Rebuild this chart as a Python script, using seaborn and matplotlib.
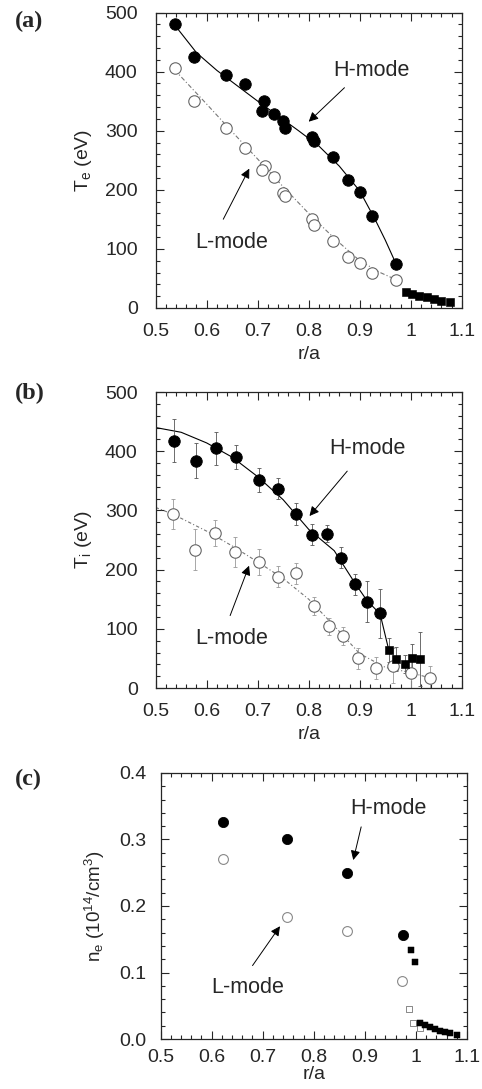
import numpy as np
import pandas as pd
import matplotlib
matplotlib.use('Agg')
import matplotlib.pyplot as plt
from matplotlib.ticker import MultipleLocator, FuncFormatter
import seaborn as sns

sns.set_style('ticks')
plt.rcParams['font.family'] = ['Liberation Sans', 'DejaVu Sans']
plt.rcParams['mathtext.default'] = 'regular'

# ---- (a) electron temperature ----
te_h_x = [0.538, 0.576, 0.637, 0.675, 0.712, 0.708, 0.731, 0.750, 0.754, 0.807, 0.810, 0.848, 0.877, 0.900, 0.925, 0.971]
te_h_y = [480, 424, 395, 379, 351, 333, 328, 317, 305, 289, 282, 255, 217, 196, 156, 75]
te_l_x = [0.537, 0.576, 0.637, 0.675, 0.714, 0.708, 0.731, 0.750, 0.754, 0.807, 0.810, 0.848, 0.877, 0.900, 0.925, 0.971]
te_l_y = [406, 351, 304, 271, 241, 234, 222, 195, 189, 151, 140, 113, 86, 76, 59, 48]
te_sq_x = [0.990, 1.003, 1.017, 1.031, 1.046, 1.060, 1.076]
te_sq_y = [27, 24, 21, 18, 15, 12, 10]
te_hfit_x = [0.538, 0.58, 0.62, 0.66, 0.70, 0.74, 0.78, 0.82, 0.86, 0.90, 0.93, 0.95, 0.971]
te_hfit_y = [478, 432, 402, 376, 350, 325, 300, 274, 240, 198, 150, 115, 75]
te_lfit_x = [0.537, 0.60, 0.65, 0.70, 0.75, 0.80, 0.85, 0.90, 0.94, 0.971]
te_lfit_y = [403, 345, 298, 252, 205, 160, 118, 80, 60, 48]

# ---- (b) ion temperature ----
ti_h_x = [0.535, 0.580, 0.619, 0.658, 0.702, 0.739, 0.775, 0.807, 0.836, 0.863, 0.890, 0.914, 0.940]
ti_h_y = [418, 384, 405, 390, 351, 337, 294, 259, 261, 220, 175, 146, 126]
ti_h_err = [36, 30, 28, 20, 20, 18, 18, 18, 15, 18, 18, 35, 42]
ti_sq_x = [0.957, 0.972, 0.988, 1.003, 1.019]
ti_sq_y = [64, 49, 41, 50, 49]
ti_sq_err = [20, 20, 15, 25, 45]
ti_l_x = [0.533, 0.577, 0.616, 0.656, 0.703, 0.739, 0.775, 0.810, 0.839, 0.868, 0.897, 0.932, 0.966, 1.001, 1.038]
ti_l_y = [294, 234, 262, 230, 213, 188, 194, 139, 104, 88, 50, 34, 38, 25, 17]
ti_l_err = [26, 35, 22, 25, 22, 18, 18, 15, 15, 15, 18, 18, 30, 25, 20]
ti_hfit_x = [0.50, 0.55, 0.60, 0.65, 0.70, 0.75, 0.80, 0.85, 0.89, 0.914, 0.940, 0.957]
ti_hfit_y = [440, 432, 414, 390, 357, 318, 268, 232, 178, 148, 125, 64]
ti_lfit_x = [0.50, 0.533, 0.60, 0.65, 0.70, 0.75, 0.80, 0.85, 0.90, 0.95, 1.00, 1.038]
ti_lfit_y = [305, 294, 265, 240, 213, 185, 150, 105, 58, 35, 26, 17]

# ---- (c) electron density ----
ne_h_x = [0.623, 0.748, 0.865, 0.974]
ne_h_y = [0.3265, 0.3005, 0.250, 0.156]
ne_l_x = [0.623, 0.748, 0.865, 0.973]
ne_l_y = [0.271, 0.184, 0.1625, 0.0875]
ne_hsq_x = [0.990, 0.998, 1.008, 1.018, 1.028, 1.037, 1.047, 1.057, 1.067, 1.080]
ne_hsq_y = [0.134, 0.116, 0.0245, 0.021, 0.018, 0.015, 0.0125, 0.010, 0.0085, 0.0065]
ne_lsq_x = [0.987, 0.995, 1.007]
ne_lsq_y = [0.0447, 0.0236, 0.016]

fig = plt.figure(figsize=(4.82, 10.89), dpi=100)
ax_a = fig.add_axes([0.323, 0.7172, 0.635, 0.2713])
ax_b = fig.add_axes([0.323, 0.3682, 0.635, 0.2718])
ax_c = fig.add_axes([0.333, 0.0459, 0.636, 0.2443])

open_gray = '#666666'
FS = 14

def style_axis(ax, ymax, ymaj, ymin, xpad, ypad, xlpad):
    ax.set_xlim(0.5, 1.1)
    ax.set_ylim(0, ymax)
    ax.xaxis.set_major_locator(MultipleLocator(0.1))
    ax.xaxis.set_minor_locator(MultipleLocator(0.02))
    ax.yaxis.set_major_locator(MultipleLocator(ymaj))
    ax.yaxis.set_minor_locator(MultipleLocator(ymin))
    ax.xaxis.set_major_formatter(FuncFormatter(lambda v, p: '%g' % round(v, 2)))
    ax.tick_params(which='both', direction='in', top=True, right=True, labelsize=FS, width=0.8)
    ax.tick_params(which='major', length=5.5)
    ax.tick_params(which='minor', length=2.8)
    ax.tick_params(axis='x', which='major', pad=xpad)
    ax.tick_params(axis='y', which='major', pad=ypad)
    for s in ax.spines.values():
        s.set_linewidth(0.9)
        s.set_visible(True)
    ax.set_xlabel('r/a', fontsize=FS, labelpad=xlpad)

def annotate(ax, text, xy, xytext, tx, ty):
    ax.annotate('', xy=xy, xytext=xytext,
                arrowprops=dict(arrowstyle='-|>', color='k', lw=0.7, mutation_scale=14))
    ax.text(tx, ty, text, fontsize=15.5, ha='center', va='center')

# (a)
ax = ax_a
sns.lineplot(x=te_hfit_x, y=te_hfit_y, ax=ax, color='k', lw=0.8, sort=False, estimator=None)
sns.lineplot(x=te_lfit_x, y=te_lfit_y, ax=ax, color='#777777', lw=0.8, sort=False, estimator=None,
             linestyle=(0, (4, 2, 1, 2)))
sns.scatterplot(x=te_l_x, y=te_l_y, ax=ax, marker='o', s=68, facecolor='white', edgecolor=open_gray, linewidth=0.8, zorder=3)
sns.scatterplot(x=te_h_x, y=te_h_y, ax=ax, marker='o', s=68, color='k', edgecolor='k', zorder=4)
sns.scatterplot(x=te_sq_x, y=te_sq_y, ax=ax, marker='s', s=28, color='k', edgecolor='k', zorder=4)
style_axis(ax, 500, 100, 20, 11, 13, 4)
ax.set_ylabel('T$_e$ (eV)', fontsize=FS, labelpad=8)
annotate(ax, 'H-mode', (0.796, 312), (0.874, 376), 0.923, 402)
annotate(ax, 'L-mode', (0.686, 240), (0.630, 146), 0.649, 110)

# (b)
ax = ax_b
sns.lineplot(x=ti_hfit_x, y=ti_hfit_y, ax=ax, color='k', lw=0.8, sort=False, estimator=None)
sns.lineplot(x=ti_lfit_x, y=ti_lfit_y, ax=ax, color='#777777', lw=0.8, sort=False, estimator=None,
             linestyle=(0, (3, 2, 1, 2)))
ax.errorbar(ti_h_x, ti_h_y, yerr=ti_h_err, fmt='none', ecolor='#555555', elinewidth=0.6, capsize=1.5, capthick=0.6, zorder=2)
ax.errorbar(ti_sq_x, ti_sq_y, yerr=ti_sq_err, fmt='none', ecolor='#555555', elinewidth=0.6, capsize=1.5, capthick=0.6, zorder=2)
ax.errorbar(ti_l_x, ti_l_y, yerr=ti_l_err, fmt='none', ecolor='#999999', elinewidth=0.6, capsize=1.5, capthick=0.6, zorder=2)
sns.scatterplot(x=ti_l_x, y=ti_l_y, ax=ax, marker='o', s=68, facecolor='white', edgecolor=open_gray, linewidth=0.8, zorder=3)
sns.scatterplot(x=ti_h_x, y=ti_h_y, ax=ax, marker='o', s=68, color='k', edgecolor='k', zorder=4)
sns.scatterplot(x=ti_sq_x, y=ti_sq_y, ax=ax, marker='s', s=30, color='k', edgecolor='k', zorder=4)
style_axis(ax, 500, 100, 20, 11, 13, 4)
ax.set_ylabel('T$_i$ (eV)', fontsize=FS, labelpad=8)
annotate(ax, 'H-mode', (0.798, 287), (0.879, 370), 0.915, 405)
annotate(ax, 'L-mode', (0.685, 211), (0.644, 118), 0.649, 83)

# (c)
ax = ax_c
sns.scatterplot(x=ne_l_x, y=ne_l_y, ax=ax, marker='o', s=50, facecolor='white', edgecolor='#888888', linewidth=0.8, zorder=3)
sns.scatterplot(x=ne_lsq_x, y=ne_lsq_y, ax=ax, marker='s', s=14, facecolor='white', edgecolor='#888888', linewidth=0.7, zorder=3)
sns.scatterplot(x=ne_h_x, y=ne_h_y, ax=ax, marker='o', s=54, color='k', edgecolor='k', zorder=4)
sns.scatterplot(x=ne_hsq_x, y=ne_hsq_y, ax=ax, marker='s', s=20, color='k', edgecolor='k', zorder=4)
style_axis(ax, 0.4, 0.1, 0.02, 7, 10, 0)
ax.yaxis.set_major_formatter(FuncFormatter(lambda v, p: '%.1f' % v))
ax.set_ylabel('n$_e$ (10$^{14}$/cm$^3$)', fontsize=13.5, labelpad=9)
annotate(ax, 'H-mode', (0.876, 0.265), (0.894, 0.323), 0.946, 0.347)
annotate(ax, 'L-mode', (0.737, 0.173), (0.677, 0.107), 0.670, 0.077)

for lab, y in [('(a)', 0.980), ('(b)', 0.639), ('(c)', 0.2847)]:
    fig.text(0.031, y, lab, fontsize=17.5, fontweight='bold', family=['Liberation Serif', 'DejaVu Serif'],
             ha='left', va='center')

fig.savefig('out.png', dpi=100)
